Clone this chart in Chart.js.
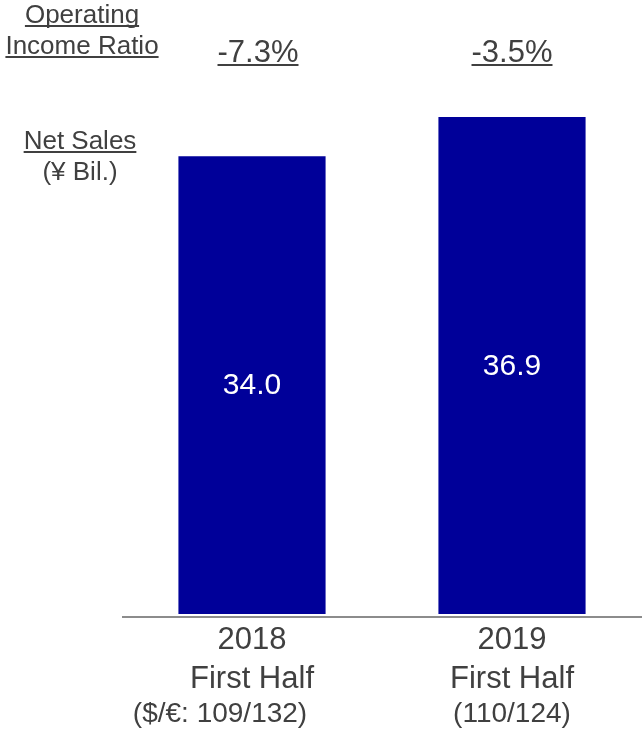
<!DOCTYPE html>
<html>
<head>
<meta charset="utf-8">
<script src="https://cdn.jsdelivr.net/npm/chart.js@4/dist/chart.umd.min.js"></script>
<style>
  html, body { margin: 0; padding: 0; background: #ffffff; }
  #wrap { width: 642px; height: 733px; }
</style>
</head>
<body>
<div id="wrap"><canvas id="chart" width="642" height="733"></canvas></div>
<script>
// Net sales per half-year period (¥ billion)
const periods = ['2018', '2019'];
const periodSubtitles = ['First Half', 'First Half'];
const exchangeRates = ['($/€: 109/132)', '(110/124)'];
const netSales = [34.0, 36.9];
const operatingIncomeRatio = ['-7.3%', '-3.5%'];

const TEXT = '#404040';
const FONT = '"Liberation Sans", Arial, sans-serif';

function underlined(ctx, text, x, y, size, color) {
  ctx.font = size + 'px ' + FONT;
  ctx.fillStyle = color;
  ctx.textAlign = 'center';
  ctx.textBaseline = 'alphabetic';
  ctx.fillText(text, x, y);
  const w = ctx.measureText(text).width;
  ctx.fillRect(x - w / 2, y + 2, w, 2);
}

const annotations = {
  id: 'annotations',
  afterDraw(chart) {
    const ctx = chart.ctx;
    const xs = chart.scales.x;
    const ys = chart.scales.y;
    const area = chart.chartArea;
    ctx.save();

    // baseline under the bars
    ctx.fillStyle = '#8c8c8c';
    ctx.fillRect(area.left, area.bottom + 2, area.right - area.left, 2);

    // left-hand headings
    underlined(ctx, 'Operating', 82, 23, 26, TEXT);
    underlined(ctx, 'Income Ratio', 82, 54, 26, TEXT);
    underlined(ctx, 'Net Sales', 80, 149, 26, TEXT);
    ctx.font = '26px ' + FONT;
    ctx.fillStyle = TEXT;
    ctx.textAlign = 'center';
    ctx.fillText('(¥ Bil.)', 80, 180);

    periods.forEach((p, i) => {
      const cx = xs.getPixelForValue(i);

      // operating income ratio above each bar
      underlined(ctx, operatingIncomeRatio[i], cx + (i === 0 ? 6 : 0), 62, 31, TEXT);

      // value inside the bar
      const top = ys.getPixelForValue(netSales[i]);
      const bottom = ys.getPixelForValue(0);
      ctx.font = '30px ' + FONT;
      ctx.fillStyle = '#ffffff';
      ctx.textAlign = 'center';
      ctx.textBaseline = 'middle';
      ctx.fillText(netSales[i].toFixed(1), cx, (top + bottom) / 2 + 1);

      // category labels below the axis
      ctx.textBaseline = 'alphabetic';
      ctx.fillStyle = TEXT;
      ctx.font = '31px ' + FONT;
      ctx.fillText(p, cx, 649);
      ctx.fillText(periodSubtitles[i], cx, 688);
      // exchange-rate note: the rate pair sits under the bar, the "$/€:" prefix hangs left
      ctx.font = '28px ' + FONT;
      ctx.fillText(exchangeRates[i], cx + (i === 0 ? -32 : 0), 722);
    });

    ctx.restore();
  }
};

new Chart(document.getElementById('chart'), {
  type: 'bar',
  data: {
    labels: periods,
    datasets: [{
      data: netSales,
      backgroundColor: '#000099',
      borderWidth: 0,
      barPercentage: 0.566,
      categoryPercentage: 1.0
    }]
  },
  options: {
    responsive: false,
    animation: false,
    layout: { padding: { left: 122, right: 0, top: 8, bottom: 119 } },
    plugins: {
      legend: { display: false },
      tooltip: { enabled: false },
      title: { display: false }
    },
    scales: {
      x: { display: false },
      y: { display: false, min: 0, max: 45 }
    }
  },
  plugins: [annotations]
});
</script>
</body>
</html>
